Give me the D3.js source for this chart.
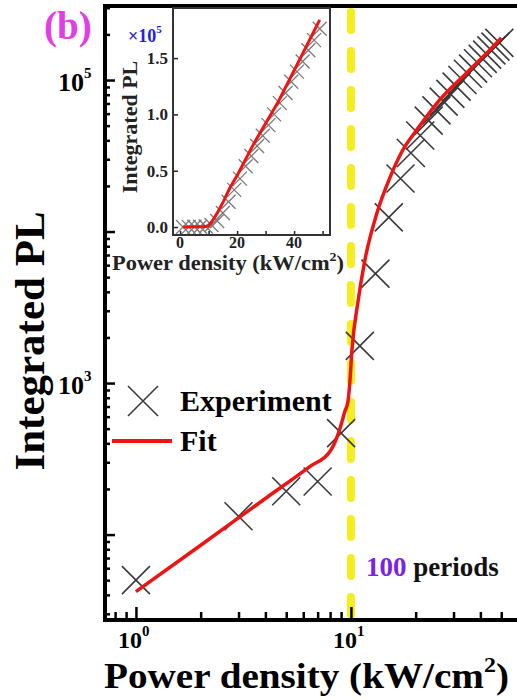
<!DOCTYPE html>
<html>
<head>
<meta charset="utf-8">
<script src="https://cdn.jsdelivr.net/npm/d3@7"></script>
<style>
  body { margin: 0; background: #fff; }
  text { font-family: "Liberation Serif", "Times New Roman", serif; font-weight: bold; }
</style>
</head>
<body>
<div id="chart"></div>
<script>
// experiment points (kW/cm^2, integrated PL)
const powerExp = [1, 3, 5, 7, 9, 11, 13, 15, 17, 19, 21, 23, 25, 27, 29, 31, 33, 35, 37, 39, 41, 43, 45, 47, 49];
const plExp = [50, 132, 193, 224, 467, 1760, 5270, 12400, 22400, 33000, 43000, 54000, 63000, 72000, 81000,
  90500, 100000, 110000, 119000, 129000, 138000, 147000, 157000, 166000, 176000];

// fit curve
const powerFit = [1.0, 2.0, 4.0, 6.46, 8.0, 8.71, 9.38, 9.69, 9.89, 10.1, 10.8, 11.6, 13.2, 15.2, 17.4, 20.2, 25.8, 34.4, 49, 50];
const plFit = [42, 85, 173, 282, 355, 459, 653, 760, 1030, 1630, 3490, 6430, 13200, 22800, 34400, 46700, 73800, 111000, 184000, 190000];

const xMajor = [1, 10];
const xMinor = [0.8, 0.9, 2, 3, 4, 5, 6, 7, 8, 9, 20, 30, 40, 50];
const yMajor = [100, 1000, 10000, 100000];
const yMinor = [30, 40, 50, 60, 70, 80, 90, 200, 300, 400, 500, 600, 700, 800, 900,
  2000, 3000, 4000, 5000, 6000, 7000, 8000, 9000, 20000, 30000, 40000, 50000, 60000, 70000, 80000, 90000, 200000, 300000];
const xLabels = [{v: 1, e: "0"}, {v: 10, e: "1"}];
const yLabels = [{v: 1000, e: "3"}, {v: 100000, e: "5"}];

const insetXTicks = [0, 10, 20, 30, 40, 50];
const insetXLabels = [0, 20, 40];
const insetYTicks = [0, 0.5, 1.0, 1.5];

const W = 517, H = 700;
const svg = d3.select("#chart").append("svg").attr("width", W).attr("height", H);

const x = d3.scaleLog().domain([0.718, 59.2]).range([105, 517]);
const y = d3.scaleLog().domain([27.3, 3.08e5]).range([620, 6]);

svg.append("clipPath").attr("id", "clip")
  .append("rect").attr("x", 105).attr("y", 6).attr("width", 412).attr("height", 614);

// yellow dashed line at 10 kW/cm2
svg.append("line")
  .attr("x1", x(10)).attr("x2", x(10)).attr("y1", 12).attr("y2", 616)
  .attr("stroke", "#f4ee1e").attr("stroke-width", 8)
  .attr("stroke-dasharray", "18,21").attr("stroke-linecap", "round");

const plot = svg.append("g").attr("clip-path", "url(#clip)");

function cross(g, cx, cy, r, color, w) {
  g.append("path")
    .attr("d", `M${cx - r},${cy - r}L${cx + r},${cy + r}M${cx - r},${cy + r}L${cx + r},${cy - r}`)
    .attr("stroke", color).attr("stroke-width", w).attr("fill", "none");
}

powerExp.forEach((p, i) => cross(plot, x(p), y(plExp[i]), 14, "#3a3a3a", 1.6));

const fitPts = powerFit.map((p, i) => [p, plFit[i]]);
plot.append("path")
  .attr("d", d3.line().x(d => x(d[0])).y(d => y(d[1])).curve(d3.curveMonotoneX)(fitPts))
  .attr("fill", "none").attr("stroke", "#ee1414").attr("stroke-width", 3.5);

// axes (ticks pointing inside)
const xAxisMinor = d3.axisBottom(x).tickValues(xMinor).tickSize(-8).tickFormat("");
const xAxisMajor = d3.axisBottom(x).tickValues(xMajor).tickSize(-13).tickFormat("");
const yAxisMinor = d3.axisLeft(y).tickValues(yMinor).tickSize(-5).tickFormat("");
const yAxisMajor = d3.axisLeft(y).tickValues(yMajor).tickSize(-10).tickFormat("");
[xAxisMinor, xAxisMajor].forEach(a => {
  const g = svg.append("g").attr("transform", "translate(0,620)").call(a);
  g.select(".domain").remove();
  g.selectAll("line").attr("stroke", "#000").attr("stroke-width", 2.5);
});
[yAxisMinor, yAxisMajor].forEach(a => {
  const g = svg.append("g").attr("transform", "translate(105,0)").call(a);
  g.select(".domain").remove();
  g.selectAll("line").attr("stroke", "#000").attr("stroke-width", 2.5);
});

// frame
svg.append("path").attr("d", "M517,6H105V620H517")
  .attr("fill", "none").attr("stroke", "#000").attr("stroke-width", 4);

// tick labels
xLabels.forEach(l => {
  const t = svg.append("text").attr("x", x(l.v) - 18).attr("y", 648).attr("font-size", 24);
  t.append("tspan").text("10");
  t.append("tspan").attr("font-size", 15).attr("dy", -12).text(l.e);
});
yLabels.forEach(l => {
  const t = svg.append("text").attr("x", 58).attr("y", y(l.v) + 11).attr("font-size", 26);
  t.append("tspan").text("10");
  t.append("tspan").attr("font-size", 15).attr("dy", -13).text(l.e);
});

// axis titles
const xt = svg.append("text").attr("x", 104).attr("y", 688).attr("font-size", 36)
  .attr("textLength", 405).attr("lengthAdjust", "spacingAndGlyphs");
xt.append("tspan").text("Power density (kW/cm");
xt.append("tspan").attr("font-size", 22).attr("dy", -16).text("2");
xt.append("tspan").attr("dy", 16).text(")");

svg.append("text").attr("transform", "translate(44,341) rotate(-90)")
  .attr("text-anchor", "middle").attr("font-size", 43).text("Integrated PL");

svg.append("text").attr("x", 44).attr("y", 39).attr("font-size", 39)
  .attr("fill", "#e23de6").text("(b)");

// legend
cross(svg, 143, 401, 15, "#3a3a3a", 1.6);
svg.append("text").attr("x", 180).attr("y", 411).attr("font-size", 30).text("Experiment");
svg.append("line").attr("x1", 112).attr("x2", 172).attr("y1", 441).attr("y2", 441)
  .attr("stroke", "#ee1414").attr("stroke-width", 4);
svg.append("text").attr("x", 180).attr("y", 451).attr("font-size", 30).text("Fit");

const per = svg.append("text").attr("x", 366).attr("y", 576).attr("font-size", 27);
per.append("tspan").attr("fill", "#7b22e6").text("100");
per.append("tspan").attr("fill", "#111").text(" periods");

// ---- inset (linear) ----
const xi = d3.scaleLinear().domain([-2.5, 52.6]).range([173, 330]);
const yi = d3.scaleLinear().domain([-0.071e5, 1.945e5]).range([235, 8]);
const inset = svg.append("g");
inset.append("rect").attr("x", 173).attr("y", 8).attr("width", 157).attr("height", 227).attr("fill", "#fff");

inset.append("clipPath").attr("id", "clipi")
  .append("rect").attr("x", 173).attr("y", 8).attr("width", 157).attr("height", 227);
const ip = inset.append("g").attr("clip-path", "url(#clipi)");
powerExp.forEach((p, i) => cross(ip, xi(p), yi(plExp[i]), 7, "#7a7a7a", 1.3));
ip.append("path")
  .attr("d", d3.line().x(d => xi(d[0])).y(d => yi(d[1]))(fitPts.slice(0, -1)))
  .attr("fill", "none").attr("stroke", "#ee1414").attr("stroke-width", 3);

const gix = inset.append("g").attr("transform", "translate(0,235)")
  .call(d3.axisBottom(xi).tickValues(insetXTicks).tickSize(-4).tickFormat(""));
gix.select(".domain").remove();
const giy = inset.append("g").attr("transform", "translate(173,0)")
  .call(d3.axisLeft(yi).tickValues(insetYTicks.map(v => v * 1e5)).tickSize(-5).tickFormat(""));
giy.select(".domain").remove();
inset.selectAll(".tick line").attr("stroke", "#222").attr("stroke-width", 1.5);
inset.append("rect").attr("x", 173).attr("y", 8).attr("width", 157).attr("height", 227)
  .attr("fill", "none").attr("stroke", "#333").attr("stroke-width", 2);

insetXLabels.forEach(v => inset.append("text").attr("x", xi(v)).attr("y", 248)
  .attr("text-anchor", "middle").attr("font-size", 16).attr("fill", "#222").text(v));
insetYTicks.forEach(v => inset.append("text").attr("x", 168).attr("y", yi(v * 1e5) + 6)
  .attr("text-anchor", "end").attr("font-size", 17).attr("fill", "#222").text(v.toFixed(1)));

const ixt = inset.append("text").attr("x", 112).attr("y", 270).attr("font-size", 21).attr("fill", "#222")
  .attr("textLength", 232).attr("lengthAdjust", "spacingAndGlyphs");
ixt.append("tspan").text("Power density (kW/cm");
ixt.append("tspan").attr("font-size", 13).attr("dy", -9).text("2");
ixt.append("tspan").attr("dy", 9).text(")");
inset.append("text").attr("transform", "translate(137,127) rotate(-90)")
  .attr("text-anchor", "middle").attr("font-size", 22).attr("fill", "#222").text("Integrated PL");

const sc = inset.append("text").attr("x", 128).attr("y", 42).attr("font-size", 18).attr("fill", "#2222dd");
sc.append("tspan").text("×10");
sc.append("tspan").attr("font-size", 11).attr("dy", -9).text("5");
</script>
</body>
</html>
